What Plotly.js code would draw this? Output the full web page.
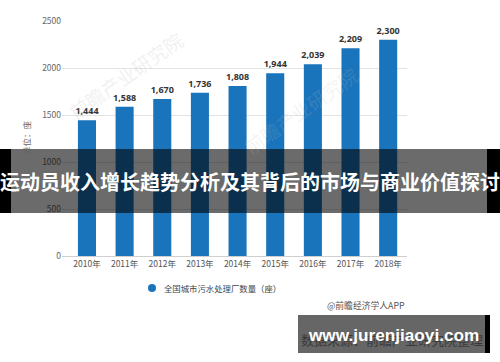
<!DOCTYPE html>
<html>
<head>
<meta charset="utf-8">
<script src="https://cdn.plot.ly/plotly-3.0.1.min.js"></script>
<style>html,body{margin:0;padding:0;background:#fff;}#chart{width:500px;height:362px;}</style>
</head>
<body>
<div id="chart"></div>
<script>
const years = ['2010年','2011年','2012年','2013年','2014年','2015年','2016年','2017年','2018年'];
const plants = [1444, 1588, 1670, 1736, 1808, 1944, 2039, 2209, 2300];
const yTicks = [0, 500, 1000, 1500, 2000, 2500];
const seriesName = '全国城市污水处理厂数量（座）';
const yTitle = '单位：座';
const bannerTitle = '运动员收入增长趋势分析及其背后的市场与商业价值探讨';
const credit = '@前瞻经济学人APP';
const sourceText = '数据来源：前瞻产业研究院整理';
const siteText = 'www.jurenjiaoyi.com';
const watermark = '前瞻产业研究院';

const W = 500, H = 362;
const M = {l: 62, r: 93, t: 21, b: 106};
const PW = W - M.l - M.r, PH = H - M.t - M.b;
const px = p => (p - M.l) / PW;
const py = p => (H - M.b - p) / PH;

const font = 'Noto Sans CJK SC, Noto Sans, sans-serif';
const blue = '#1a74bb';

const trace = {
  type: 'bar',
  x: years,
  y: plants,
  marker: {color: blue},
  texttemplate: '%{y:,}',
  textposition: 'outside',
  constraintext: 'none',
  cliponaxis: false,
  textfont: {family: 'Noto Sans, sans-serif', size: 9, color: '#333', weight: 'bold'},
  hoverinfo: 'x+y',
  showlegend: false
};

const box = (x0, x1, y0, y1, fill) => ({type: 'rect', xref: 'paper', yref: 'paper', layer: 'above',
  x0: px(x0), x1: px(x1), y0: py(y1), y1: py(y0), fillcolor: fill, line: {width: 0}});

const shapes = [
  box(0, 11, 149, 213, '#000'),
  box(11, 487, 149, 213, 'rgba(0,0,0,0.58)'),
  box(487, 500, 149, 213, '#000'),
  box(298, 485, 315, 353, '#666'),
  box(485, 490, 315, 353, '#000'),
  {type: 'circle', xref: 'paper', yref: 'paper', xsizemode: 'pixel', ysizemode: 'pixel', xanchor: px(152), yanchor: py(288), x0: -4, x1: 4, y0: -4, y1: 4, fillcolor: blue, line: {width: 0}}
];

const ann = (x, y, text, f, extra) => Object.assign({xref: 'paper', yref: 'paper', x: px(x), y: py(y),
  xanchor: 'center', yanchor: 'middle', text: text, showarrow: false, font: f}, extra || {});

const annotations = [
  ann(125, 75, watermark, {family: font, size: 19, color: 'rgba(190,190,190,0.22)'}, {textangle: -35}),
  ann(300, 110, watermark, {family: font, size: 19, color: 'rgba(190,190,190,0.18)'}, {textangle: -35}),
  ann(26, 138, yTitle, {family: font, size: 8.5, color: '#666'}, {textangle: -90}),
  ann(162, 288, seriesName, {family: font, size: 8.4, color: '#444'}, {xanchor: 'left'}),
  ann(407, 305, credit, {family: font, size: 8.8, color: '#555'}, {xanchor: 'right'}),
  ann(250, 181, bannerTitle, {family: font, size: 20, color: '#fff', weight: 'bold'}),
  ann(299, 339, sourceText, {family: font, size: 13, color: '#3a3a3a'}, {xanchor: 'left'}),
  ann(393, 335, siteText, {family: 'Liberation Sans, Arial, sans-serif', size: 17.2, color: '#fff', weight: 'bold'})
];

const layout = {
  width: W, height: H,
  margin: M,
  paper_bgcolor: '#fff', plot_bgcolor: '#fff',
  bargap: 0.52,
  xaxis: {
    type: 'category', range: [-0.663, 8.5], fixedrange: true,
    showline: true, linecolor: '#cfcfcf', linewidth: 1,
    showgrid: false, ticks: '',
    tickfont: {family: font, size: 8.5, color: '#555'}
  },
  yaxis: {
    range: [0, 2500], tickvals: yTicks, ticktext: yTicks.map(String),
    showgrid: true, gridcolor: '#e3e3e3', gridwidth: 1,
    zeroline: false, showline: false, ticks: '',
    tickfont: {family: font, size: 8.5, color: '#666'}
  },
  shapes: shapes,
  annotations: annotations
};

Plotly.newPlot('chart', [trace], layout, {displayModeBar: false, staticPlot: true});
</script>
</body>
</html>
